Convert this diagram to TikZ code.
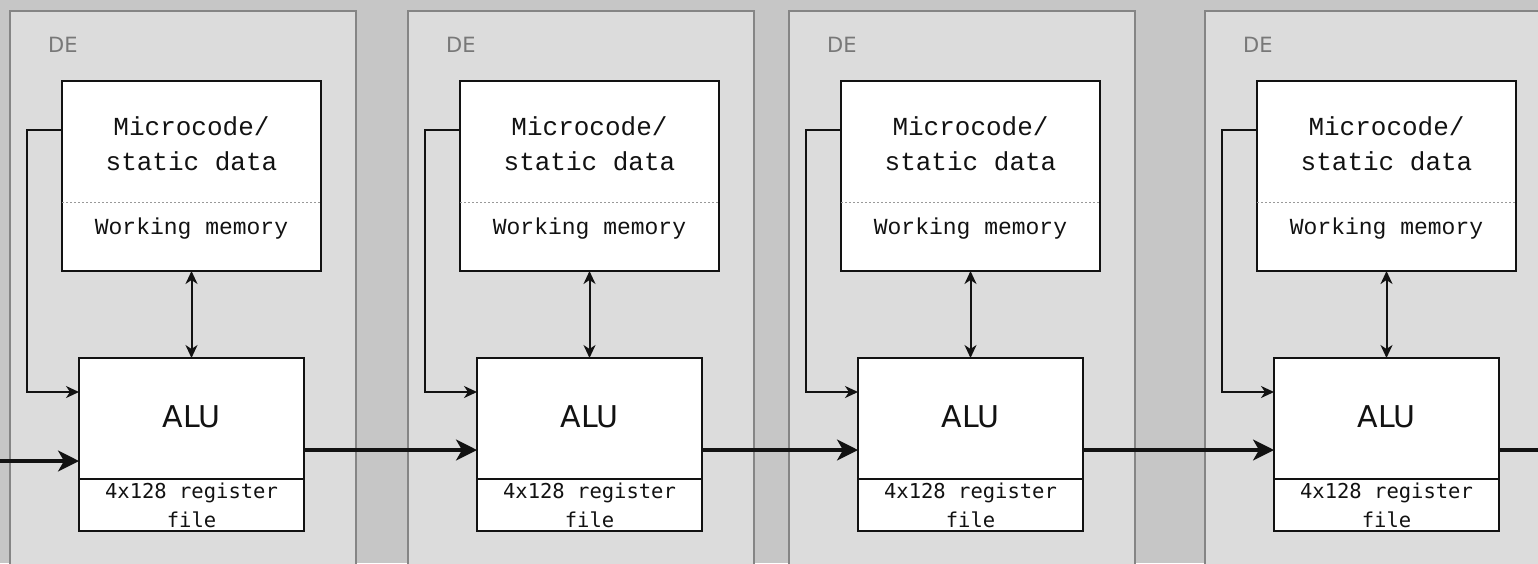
\documentclass[tikz,border=0pt]{standalone}
\usepackage{fontspec}
\usetikzlibrary{arrows.meta,calc}
\newfontfamily\memfont{Liberation Mono}
\newfontfamily\regfont{DejaVu Sans Mono}
\newfontfamily\labfont{DejaVu Sans}

\definecolor{outerbg}{HTML}{C6C6C6}
\definecolor{panelbg}{HTML}{DCDCDC}
\definecolor{panelline}{HTML}{858585}
\definecolor{delabel}{HTML}{787878}
\definecolor{ink}{HTML}{121212}

\begin{document}
\begin{tikzpicture}[x=1pt,y=-1pt,
  panel/.style={fill=panelbg, draw=panelline, line width=1.6pt},
  blockbox/.style={rectangle, draw=ink, fill=white, line width=2.3pt,
    inner sep=0pt, outer sep=0pt, anchor=north west},
  membox/.style={blockbox, minimum width=259pt, minimum height=190pt},
  alubox/.style={blockbox, minimum width=225pt, minimum height=173pt},
  delab/.style={anchor=base west, inner sep=0pt, text=delabel, font=\labfont\fontsize{21}{21}\selectfont},
  memtext/.style={anchor=base, inner sep=0pt, text=ink, font=\memfont\fontsize{26}{26}\selectfont},
  worktext/.style={anchor=base, inner sep=0pt, text=ink, font=\memfont\fontsize{23}{23}\selectfont},
  alutext/.style={anchor=base, inner sep=0pt, text=ink, font=\labfont\fontsize{30}{30}\selectfont},
  regtext/.style={anchor=base, inner sep=0pt, text=ink, font=\regfont\fontsize{20.5}{20.5}\selectfont},
  divider/.style={draw=ink, line width=1.7pt},
  memsplit/.style={draw=gray!80, line width=1pt, dash pattern=on 2pt off 2pt},
  link/.style={draw=ink, line width=2pt, -{Stealth[length=13pt,width=12pt,inset=4pt]}},
  duplex/.style={draw=ink, line width=2pt,
    {Stealth[length=13pt,width=12pt,inset=4pt]}-{Stealth[length=13pt,width=12pt,inset=4pt]}},
  bus/.style={draw=ink, line width=3.2pt, -{Stealth[length=21pt,width=21pt,inset=6pt]}},
  busline/.style={draw=ink, line width=3.2pt}
]
\fill[outerbg] (0,0) rectangle (1538,563);
\useasboundingbox (0,0) rectangle (1538,563);
\clip (0,0) rectangle (1538,563);

% one DE panel per left edge
\foreach \L [count=\i] in {10,408,789,1205} {
  \draw[panel] (\L,11) rectangle (\L+346,575);
  \node[delab] (de\i) at (\L+38,52) {DE};

  % memory block: microcode on top, working memory below the dotted split
  \node[membox] (mem\i) at (\L+52,81) {};
  \draw[memsplit] ($(mem\i.north west)+(0,121)$) -- ($(mem\i.north east)+(0,121)$);
  \node[memtext] (mc\i) at (\L+181.5,135) {Microcode/};
  \node[memtext] (sd\i) at (\L+181.5,170) {static data};
  \node[worktext] (wm\i) at (\L+181.5,234) {Working memory};

  % ALU block with its register file
  \node[alubox] (alu\i) at (\L+69,358) {};
  \draw[divider] ($(alu\i.north west)+(0,121)$) -- ($(alu\i.north east)+(0,121)$);
  \node[alutext] (alut\i) at (\L+181.5,427) {ALU};
  \node[regtext] (rf\i) at (\L+181.5,498) {4x128 register};
  \node[regtext] (rff\i) at (\L+181.5,527) {file};

  % microcode feeds the ALU; working memory talks both ways
  \draw[link] ($(mem\i.north west)+(0,49)$) -- ++(-35,0) |- ($(alu\i.north west)+(0,34)$);
  \draw[duplex] (mem\i.south) -- (alu\i.north);
}

% data path through the chain
\coordinate (inlet) at (0,461);
\coordinate (lvl) at (0,450);
\coordinate (outlet) at (1538,450);
\draw[bus] (inlet) -- (inlet -| alu1.west);
\draw[bus] (alu1.east |- lvl) -- (alu2.west |- lvl);
\draw[bus] (alu2.east |- lvl) -- (alu3.west |- lvl);
\draw[bus] (alu3.east |- lvl) -- (alu4.west |- lvl);
\draw[busline] (alu4.east |- lvl) -- (outlet);
\end{tikzpicture}
\end{document}
